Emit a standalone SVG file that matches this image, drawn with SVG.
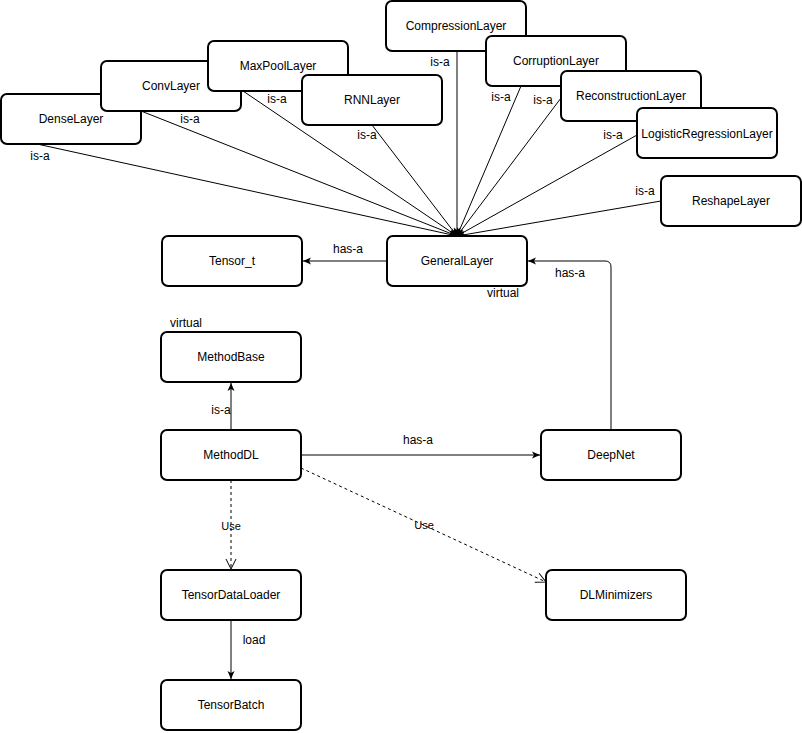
<svg xmlns="http://www.w3.org/2000/svg" width="802" height="733" viewBox="0 0 802 733">
<style>
.n rect{fill:#fff;stroke:#000;stroke-width:2}
text{font-family:"Liberation Sans",Arial,sans-serif;font-size:12px;fill:#000}
.n text{text-anchor:middle}
.l{text-anchor:middle}
.c line,.c path{stroke:#000;stroke-width:1;fill:none}
</style>
<defs>
<marker id="a" markerWidth="10" markerHeight="10" refX="9" refY="5" orient="auto" markerUnits="userSpaceOnUse"><path d="M1,1.5 L9,5 L1,8.5 L3,5 Z" fill="#000"/></marker>
<marker id="o" markerWidth="12" markerHeight="12" refX="11" refY="6" orient="auto" markerUnits="userSpaceOnUse"><path d="M1,1 L11,6 L1,11" fill="none" stroke="#000"/></marker>
</defs>
<g class="c">
<line x1="37" y1="144" x2="457" y2="236" marker-end="url(#a)"/>
<line x1="141" y1="111" x2="457" y2="236" marker-end="url(#a)"/>
<line x1="243" y1="91" x2="457" y2="236" marker-end="url(#a)"/>
<line x1="372" y1="125" x2="457" y2="236" marker-end="url(#a)"/>
<line x1="457" y1="51" x2="457" y2="236" marker-end="url(#a)"/>
<line x1="521" y1="86" x2="457" y2="236" marker-end="url(#a)"/>
<line x1="561" y1="98" x2="457" y2="236" marker-end="url(#a)"/>
<line x1="637" y1="135" x2="457" y2="236" marker-end="url(#a)"/>
<line x1="661" y1="201" x2="457" y2="236" marker-end="url(#a)"/>
<line x1="387" y1="261" x2="303" y2="261" marker-end="url(#a)"/>
<path d="M611,430 V267 Q611,261 605,261 H528" marker-end="url(#a)"/>
<line x1="231" y1="430" x2="231" y2="383" marker-end="url(#a)"/>
<line x1="301" y1="455" x2="540" y2="455" marker-end="url(#a)"/>
<line x1="231" y1="480" x2="231" y2="569" stroke-dasharray="3,3" marker-end="url(#o)"/>
<line x1="301" y1="468" x2="546" y2="582" stroke-dasharray="3,3" marker-end="url(#o)"/>
<line x1="231" y1="620" x2="231" y2="679" marker-end="url(#a)"/>
</g>
<g id="DenseLayer" class="n"><rect x="1" y="94" width="140" height="50" rx="6"/><text x="71" y="123">DenseLayer</text></g>
<g id="ConvLayer" class="n"><rect x="101" y="61" width="140" height="50" rx="6"/><text x="171" y="90">ConvLayer</text></g>
<g id="MaxPoolLayer" class="n"><rect x="208" y="41" width="140" height="50" rx="6"/><text x="278" y="70">MaxPoolLayer</text></g>
<g id="RNNLayer" class="n"><rect x="302" y="75" width="140" height="50" rx="6"/><text x="372" y="104">RNNLayer</text></g>
<g id="CompressionLayer" class="n"><rect x="386" y="1" width="140" height="50" rx="6"/><text x="456" y="30">CompressionLayer</text></g>
<g id="CorruptionLayer" class="n"><rect x="486" y="36" width="140" height="50" rx="6"/><text x="556" y="65">CorruptionLayer</text></g>
<g id="ReconstructionLayer" class="n"><rect x="561" y="71" width="140" height="50" rx="6"/><text x="631" y="100">ReconstructionLayer</text></g>
<g id="LogisticRegressionLayer" class="n"><rect x="637" y="108" width="140" height="50" rx="6"/><text x="707" y="138">LogisticRegressionLayer</text></g>
<g id="ReshapeLayer" class="n"><rect x="661" y="176" width="140" height="50" rx="6"/><text x="731" y="205">ReshapeLayer</text></g>
<g id="GeneralLayer" class="n"><rect x="387" y="236" width="140" height="50" rx="6"/><text x="457" y="265">GeneralLayer</text></g>
<g id="Tensor_t" class="n"><rect x="162" y="236" width="140" height="50" rx="6"/><text x="232" y="265">Tensor_t</text></g>
<g id="MethodBase" class="n"><rect x="161" y="332" width="140" height="50" rx="6"/><text x="231" y="361">MethodBase</text></g>
<g id="MethodDL" class="n"><rect x="161" y="430" width="140" height="50" rx="6"/><text x="231" y="459">MethodDL</text></g>
<g id="DeepNet" class="n"><rect x="541" y="430" width="140" height="50" rx="6"/><text x="611" y="459">DeepNet</text></g>
<g id="TensorDataLoader" class="n"><rect x="161" y="570" width="140" height="50" rx="6"/><text x="231" y="599">TensorDataLoader</text></g>
<g id="DLMinimizers" class="n"><rect x="546" y="570" width="140" height="50" rx="6"/><text x="616" y="599">DLMinimizers</text></g>
<g id="TensorBatch" class="n"><rect x="161" y="680" width="140" height="50" rx="6"/><text x="231" y="709">TensorBatch</text></g>
<g id="labels">
<text class="l" x="40" y="160">is-a</text>
<text class="l" x="190" y="123">is-a</text>
<text class="l" x="277" y="103">is-a</text>
<text class="l" x="367" y="139">is-a</text>
<text class="l" x="440" y="66">is-a</text>
<text class="l" x="501" y="101">is-a</text>
<text class="l" x="543" y="104">is-a</text>
<text class="l" x="613" y="139">is-a</text>
<text class="l" x="645" y="195">is-a</text>
<text class="l" x="348" y="253">has-a</text>
<text class="l" x="570" y="277">has-a</text>
<text class="l" x="503" y="297">virtual</text>
<text class="l" x="186" y="327">virtual</text>
<text class="l" x="221" y="414">is-a</text>
<text class="l" x="418" y="444">has-a</text>
<text class="l" x="231" y="530" style="font-size:11px">Use</text>
<text class="l" x="424" y="529" style="font-size:11px">Use</text>
<text class="l" x="254" y="644">load</text>
</g>
</svg>
